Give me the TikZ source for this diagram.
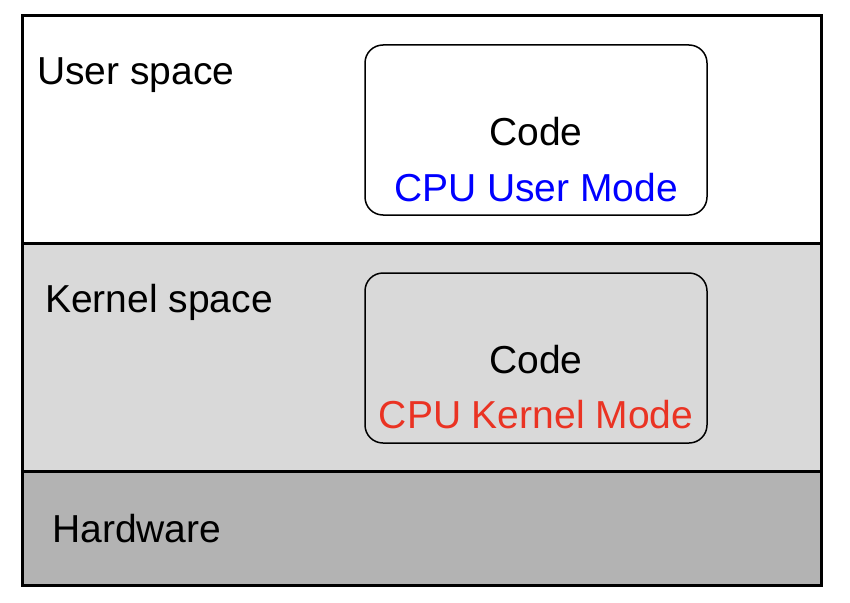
\documentclass[tikz,border=0pt]{standalone}
\usepackage{fontspec}
\setmainfont{Liberation Sans}
\definecolor{kgray}{HTML}{D9D9D9}
\definecolor{hgray}{HTML}{B3B3B3}
\definecolor{ublue}{HTML}{0000FF}
\definecolor{kred}{HTML}{EA3323}
\begin{document}
\begin{tikzpicture}[x=1pt,y=-1pt,
  lbl/.style={anchor=base west,inner sep=0pt,font=\fontsize{39}{47}\selectfont},
  ctr/.style={anchor=base,inner sep=0pt,font=\fontsize{39}{47}\selectfont},
  codebox/.style={draw=black,line width=1.5pt,rounded corners=18pt}]
\useasboundingbox (0,0) rectangle (850,602);
\fill[white] (0,0) rectangle (850,602);
% bands
\fill[white] (22,16) rectangle (821,243);
\fill[kgray] (22,243) rectangle (821,471);
\fill[hgray] (22,471) rectangle (821,585);
\draw[line width=3pt] (22,243) -- (821,243);
\draw[line width=3pt] (22,471) -- (821,471);
\draw[line width=3pt] (22,16) rectangle (821,585);
% code boxes
\draw[codebox,fill=white] (365,45) rectangle (707,215);
\draw[codebox,fill=kgray] (365,273) rectangle (707,443);
% labels
\node[lbl] (us) at (37,84) {User space};
\node[lbl] (ks) at (45,312) {Kernel space};
\node[lbl] (hw) at (52,542) {Hardware};
\node[ctr] (c1) at (536,145) {Code};
\node[ctr,text=ublue] (m1) at (536,201) {CPU User Mode};
\node[ctr] (c2) at (536,373) {Code};
\node[ctr,text=kred] (m2) at (536,428) {CPU Kernel Mode};
\end{tikzpicture}
\end{document}
